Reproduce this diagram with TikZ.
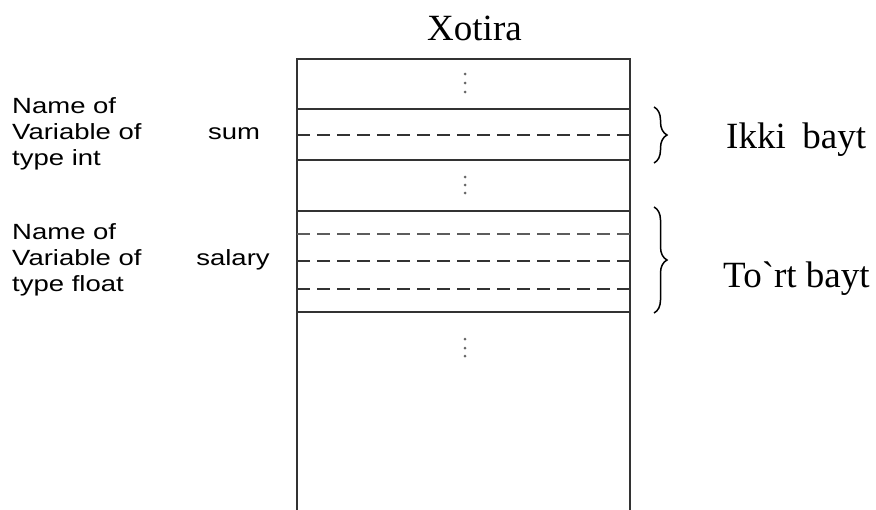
\documentclass[tikz,border=0pt]{standalone}
\usepackage{fontspec}
\setmainfont{Liberation Serif}
\newfontfamily\arialfont{Liberation Sans}
\usetikzlibrary{decorations.pathreplacing}
\definecolor{linegray}{HTML}{333333}
\definecolor{dotgray}{HTML}{666666}
\tikzset{
  solidline/.style={draw=linegray, line width=2.5pt},
  dashline/.style={draw=linegray, line width=2.5pt, dash pattern=on 13pt off 7pt},
  thindash/.style={draw=linegray!80, line width=1.8pt, dash pattern=on 13pt off 7pt},
  vdot/.style={fill=dotgray, draw=none},
  bracestyle/.style={draw=black, line width=1.5pt, decorate, decoration={brace, amplitude=13pt}},
  serifbig/.style={font=\fontsize{37}{40}\selectfont, inner sep=0pt},
  leftlabel/.style={inner sep=0pt, anchor=west},
  varname/.style={inner sep=0pt, anchor=base},
}
\newcommand{\armtext}[1]{\scalebox{1.25}[1]{\arialfont\fontsize{22}{26}\selectfont #1}}
\begin{document}
\begin{tikzpicture}[x=1pt, y=-1pt]
\useasboundingbox (0,0) rectangle (876,509);
% memory column
\draw[solidline] (297,515) -- (297,59) -- (630,59) -- (630,515);
\foreach \yy in {109,160,211,312} \draw[solidline] (297,\yy) -- (630,\yy);
\draw[dashline] (297,135) -- (630,135);
\draw[thindash] (297,234) -- (630,234);
\draw[dashline] (297,261) -- (630,261);
\draw[dashline] (297,289) -- (630,289);
% vertical ellipses
\foreach \yy in {74,83,92,177,185,193,339,348,356} \fill[vdot] (465,\yy) circle (1.5pt);
% title
\node[serifbig, anchor=base] (title) at (474.5,40) {Xotira};
% braces
\coordinate (b1s) at (654,107);
\coordinate (b1e) at (654,163);
\coordinate (b2s) at (654,207);
\coordinate (b2e) at (654,313);
\draw[bracestyle] (b1s) -- (b1e);
\draw[bracestyle] (b2s) -- (b2e);
\node[serifbig, anchor=base west] (ikki) at (726,148) {Ikki\hspace{0.45em}bayt};
\node[serifbig, anchor=base west] (tort) at (723,287) {To\textasciigrave rt bayt};
% left labels
\node[leftlabel] (lab1) at (12,133.8) {\armtext{\begin{tabular}{@{}l@{}}Name of\\Variable of\\type int\end{tabular}}};
\node[leftlabel] (lab2) at (12,259.8) {\armtext{\begin{tabular}{@{}l@{}}Name of\\Variable of\\type float\end{tabular}}};
\node[varname] (sum) at (234,139.5) {\armtext{sum}};
\node[varname] (salary) at (233,265) {\armtext{salary}};
\end{tikzpicture}
\end{document}
